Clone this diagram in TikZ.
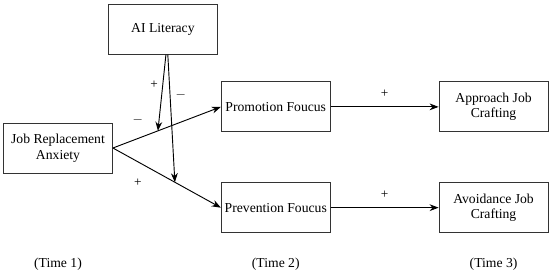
\documentclass[tikz,border=0pt]{standalone}
\usepackage{fontspec}
\setmainfont{Liberation Serif}
\usetikzlibrary{arrows.meta,positioning,calc}
\tikzset{
  >={Stealth[length=2.4mm,width=1.8mm]},
  box/.style={draw=black!80,line width=0.6pt,minimum width=28.9mm,minimum height=13.25mm,inner sep=1pt,align=center,font=\fontsize{10.3}{11.8}\selectfont,fill=white},
  lab/.style={font=\fontsize{10.3}{12}\selectfont,align=center},
  sgn/.style={font=\fontsize{10}{12}\selectfont,inner sep=1pt},
  arr/.style={->,draw=black,line width=0.7pt},
}
\begin{document}
\begin{tikzpicture}
\useasboundingbox (-15.37mm,39.22mm) rectangle (130.38mm,-34.45mm);
\node[box] (jra) at (0,0) {Job Replacement\\Anxiety};
\node[box,right=28.6mm of jra,yshift=10.9mm] (pro) {Promotion Foucus};
\node[box,below=13.25mm of pro] (pre) {Prevention Foucus};
\node[box,right=28.6mm of pro] (app) {Approach Job\\Crafting};
\node[box,right=28.6mm of pre] (avo) {Avoidance Job\\Crafting};
\node[box,above=18mm of jra.north,anchor=south,xshift=27.8mm] (ai) {AI Literacy};
% time labels
\node[lab,below=5.3mm of pre] (t2) {(Time 2)};
\node[lab] (t1) at (jra |- t2) {(Time 1)};
\node[lab] (t3) at (avo |- t2) {(Time 3)};
% main paths
\draw[arr] (jra.east) -- node[sgn,pos=0.23,above=3.2mm] {$-$} coordinate[pos=0.417] (m1) (pro.west);
\draw[arr] (jra.east) -- node[sgn,pos=0.23,below=4mm] {+} coordinate[pos=0.574] (m2) (pre.west);
\draw[arr] (pro) -- node[sgn,midway,above=2mm] {+} (app);
\draw[arr] (pre) -- node[sgn,midway,above=2mm] {+} (avo);
% moderation
\draw[arr] ([xshift=0.8mm]ai.south) -- node[sgn,pos=0.4,left=0.8mm] {+} (m1);
\draw[arr] ([xshift=1.3mm]ai.south) -- node[sgn,pos=0.32,right=1mm] {$-$} (m2);
\end{tikzpicture}
\end{document}
